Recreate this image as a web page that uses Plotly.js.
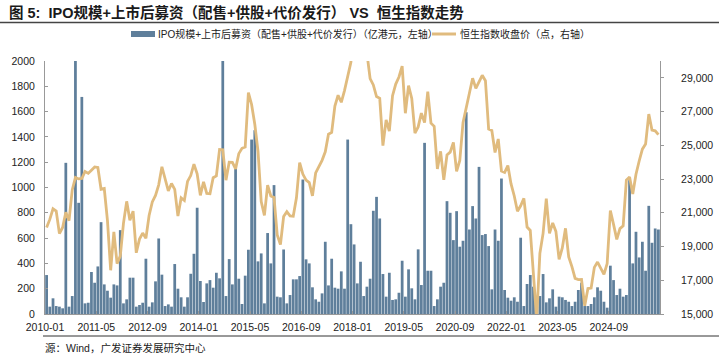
<!DOCTYPE html>
<html>
<head>
<meta charset="utf-8">
<script src="https://cdn.plot.ly/plotly-3.0.1.min.js"></script>
<style>
html,body{margin:0;padding:0;background:#fff;}
#chart{width:719px;height:359px;}
</style>
</head>
<body>
<div id="chart"></div>
<script>
// Month categories 2010-01 .. 2025-12
const months = [];
for (let y = 2010; y <= 2025; y++) {
  for (let m = 1; m <= 12; m++) months.push(y + '-' + (m < 10 ? '0' + m : m));
}

// IPO + post-listing fundraising (HKD 100m, left axis)
const fundraising = [
  308, 58, 124, 63, 58, 45, 1195, 58, 142, 2000, 879, 1716,
  84, 89, 332, 247, 376, 726, 234, 184, 129, 234, 226, 663,
  84, 116, 287, 287, 58, 71, 89, 437, 58, 92, 258, 597,
  311, 63, 76, 58, 395, 200, 132, 58, 132, 318, 476, 840,
  261, 95, 242, 268, 208, 326, 282, 2000, 142, 434, 234, 1163,
  279, 79, 303, 508, 1379, 1453, 416, 479, 84, 640, 400, 1019,
  137, 132, 510, 84, 150, 274, 274, 300, 1063, 432, 400, 211,
  116, 97, 163, 571, 226, 437, 208, 200, 337, 200, 1379, 710,
  550, 242, 413, 142, 216, 279, 816, 926, 755, 316, 137, 326,
  111, 116, 168, 421, 137, 353, 203, 116, 511, 229, 1353, 342,
  342, 63, 116, 216, 247, 892, 800, 584, 813, 532, 579, 1595,
  668, 853, 755, 1163, 624, 632, 537, 195, 668, 579, 1071, 190,
  129, 105, 132, 97, 603, 63, 237, 308, 216, 58, 142, 316,
  92, 124, 195, 58, 137, 132, 111, 97, 63, 97, 190, 247,
  63, 63, 79, 132, 211, 184, 97, 50, 382, 268, 150, 200,
  137, 150, 1058, 400, 650, 447, 571, 342, 855, 563, 676, 668
];

// Hang Seng Index month-end close (points, right axis)
const hsi = [
  20122, 20609, 21239, 21108, 19765, 20129, 21030, 20536, 22359, 23096, 23008, 23035,
  23447, 23338, 23528, 23720, 23684, 22398, 22440, 20535, 17592, 19864, 17989, 18434,
  20390, 21680, 20556, 21094, 18630, 19441, 19797, 19482, 20840, 21642, 22030, 22657,
  23730, 23020, 22300, 22737, 22392, 20803, 21883, 21731, 22860, 23206, 23881, 23306,
  22035, 22837, 22151, 22134, 23082, 23191, 24757, 24742, 22933, 23998, 23987, 23605,
  24507, 24823, 24901, 28133, 27424, 26250, 24636, 21671, 20846, 22640, 21996, 21914,
  19683, 19112, 20777, 21067, 20815, 20794, 21891, 23977, 23297, 22935, 22790, 22001,
  23361, 23741, 24112, 24615, 25661, 25765, 27324, 27970, 27554, 28246, 29177, 29919,
  32887, 30845, 30093, 30808, 30469, 28955, 28583, 27889, 27789, 24980, 26507, 25846,
  27942, 28633, 29051, 29699, 26901, 28543, 27778, 25725, 26092, 26907, 26346, 28190,
  26313, 26130, 23603, 24644, 22961, 24427, 24595, 25177, 23459, 24107, 26341, 27231,
  28284, 28980, 28378, 28725, 29152, 28828, 25961, 25879, 24576, 25377, 23475, 23398,
  23802, 22713, 21997, 21089, 21415, 21860, 20157, 19954, 17223, 14687, 18597, 19781,
  21842, 19786, 20400, 19895, 18234, 18916, 20079, 18382, 17810, 17112, 17043, 17047,
  15485, 16511, 16541, 17763, 18080, 17719, 17345, 17989, 21134, 20317, 19424, 20060,
  20225, 22941, 23120, 22119, 23290, 24072, 24773, 25077, 26856, 25907, 25859, 25631
];

const tickEvery = 16;
const seriesNames = ['IPO规模+上市后募资（配售+供股+代价发行）（亿港元，左轴）', '恒生指数收盘价（点，右轴）'];
const titleText = '图 5:  IPO规模+上市后募资（配售+供股+代价发行） VS  恒生指数走势';
const sourceText = '源：Wind，广发证券发展研究中心';

const barColor = '#5f7f9b';
const lineColor = '#e0bb7e';

const xs = months.map((_, i) => i + 0.5);
const tickvals = [], ticktext = [];
for (let i = 0; i < months.length; i += tickEvery) { tickvals.push(i); ticktext.push(months[i]); }

// pixel helpers (plot area: x 45..660, y 61..314)
const L = 45, R = 660, T = 61, B = 314;
const px = v => (v - L) / (R - L);
const py = v => (B - v) / (B - T);

const FONT = 'Liberation Sans, Arial, Noto Sans CJK SC, sans-serif';

const traces = [
  { type: 'bar', x: xs, y: fundraising, name: seriesNames[0], marker: { color: barColor, line: { width: 0 } }, yaxis: 'y', showlegend: false, hoverinfo: 'skip' },
  { type: 'scatter', mode: 'lines', x: xs, y: hsi, name: seriesNames[1], line: { color: lineColor, width: 2.8 }, yaxis: 'y2', showlegend: false, hoverinfo: 'skip' }
];

const layout = {
  width: 719, height: 359,
  margin: { l: L, r: 719 - R, t: T, b: 359 - B, pad: 0 },
  paper_bgcolor: '#ffffff', plot_bgcolor: '#ffffff',
  font: { family: FONT, size: 10.5, color: '#222' },
  bargap: 0.14,
  xaxis: {
    range: [0, months.length], tickmode: 'array', tickvals: tickvals, ticktext: ticktext,
    showgrid: false, zeroline: false, showline: true, linecolor: '#999', linewidth: 1,
    ticks: 'inside', ticklen: 3, tickcolor: '#999', tickfont: { size: 10.5, color: '#222' },
    ticklabelstandoff: 3
  },
  yaxis: {
    range: [0, 2000], dtick: 200, showgrid: false, zeroline: false,
    showline: true, linecolor: '#999', linewidth: 1, ticks: 'inside', ticklen: 3, tickcolor: '#999',
    tickfont: { size: 10.5, color: '#222' }, ticklabelstandoff: 7
  },
  yaxis2: {
    range: [15000, 30000], tick0: 15000, dtick: 2000, tickformat: ',d', overlaying: 'y', side: 'right',
    showgrid: false, zeroline: false, showline: true, linecolor: '#999', linewidth: 1,
    ticks: 'outside', ticklen: 3, tickcolor: '#999', tickfont: { size: 10.5, color: '#222' }, ticklabelstandoff: 15
  },
  shapes: [
    { type: 'line', xref: 'paper', yref: 'paper', x0: px(0), x1: px(719), y0: py(22.5), y1: py(22.5), line: { color: '#444', width: 1.5 } },
    { type: 'line', xref: 'paper', yref: 'paper', x0: px(43), x1: px(719), y0: py(336), y1: py(336), line: { color: '#333', width: 1 } },
    { type: 'rect', xref: 'paper', yref: 'paper', x0: px(131), x1: px(155), y0: py(37), y1: py(31), fillcolor: barColor, line: { width: 0 } },
    { type: 'line', xref: 'paper', yref: 'paper', x0: px(432), x1: px(456), y0: py(34), y1: py(34), line: { color: lineColor, width: 3 } }
  ],
  annotations: [
    { text: '<b>' + titleText + '</b>', xref: 'paper', yref: 'paper', x: px(7), y: py(12), xanchor: 'left', yanchor: 'middle', showarrow: false, font: { family: FONT, size: 14.5, color: '#1a1a1a' } },
    { text: seriesNames[0], xref: 'paper', yref: 'paper', x: px(156), y: py(34), xanchor: 'left', yanchor: 'middle', showarrow: false, font: { family: FONT, size: 10, color: '#222' } },
    { text: seriesNames[1], xref: 'paper', yref: 'paper', x: px(458), y: py(34), xanchor: 'left', yanchor: 'middle', showarrow: false, font: { family: FONT, size: 10, color: '#222' } },
    { text: sourceText, xref: 'paper', yref: 'paper', x: px(43), y: py(348), xanchor: 'left', yanchor: 'middle', showarrow: false, font: { family: FONT, size: 10.5, color: '#222' } }
  ]
};

Plotly.newPlot('chart', traces, layout, { staticPlot: true, displayModeBar: false });
</script>
</body>
</html>
